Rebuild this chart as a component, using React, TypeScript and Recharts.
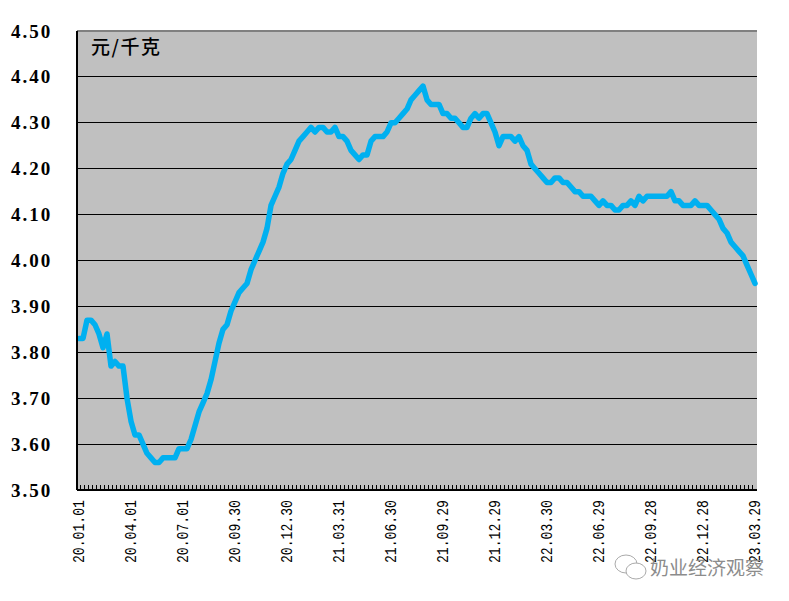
import { CartesianGrid, ComposedChart, Line, ReferenceLine, XAxis, YAxis } from 'recharts';

// weekly price, one row per 13 weeks
const prices = [
  3.83, 3.83, 3.87, 3.87, 3.86, 3.84, 3.81, 3.84, 3.77, 3.78, 3.77, 3.77, 3.7,
  3.65, 3.62, 3.62, 3.6, 3.58, 3.57, 3.56, 3.56, 3.57, 3.57, 3.57, 3.57, 3.59,
  3.59, 3.59, 3.61, 3.64, 3.67, 3.69, 3.71, 3.74, 3.78, 3.82, 3.85, 3.86, 3.89,
  3.91, 3.93, 3.94, 3.95, 3.98, 4.0, 4.02, 4.04, 4.07, 4.12, 4.14, 4.16, 4.19,
  4.21, 4.22, 4.24, 4.26, 4.27, 4.28, 4.29, 4.28, 4.29, 4.29, 4.28, 4.28, 4.29,
  4.27, 4.27, 4.26, 4.24, 4.23, 4.22, 4.23, 4.23, 4.26, 4.27, 4.27, 4.27, 4.28,
  4.3, 4.3, 4.31, 4.32, 4.33, 4.35, 4.36, 4.37, 4.38, 4.35, 4.34, 4.34, 4.34,
  4.32, 4.32, 4.31, 4.31, 4.3, 4.29, 4.29, 4.31, 4.32, 4.31, 4.32, 4.32, 4.3,
  4.28, 4.25, 4.27, 4.27, 4.27, 4.26, 4.27, 4.25, 4.24, 4.21, 4.2, 4.19, 4.18,
  4.17, 4.17, 4.18, 4.18, 4.17, 4.17, 4.16, 4.15, 4.15, 4.14, 4.14, 4.14, 4.13,
  4.12, 4.13, 4.12, 4.12, 4.11, 4.11, 4.12, 4.12, 4.13, 4.12, 4.14, 4.13, 4.14,
  4.14, 4.14, 4.14, 4.14, 4.14, 4.15, 4.13, 4.13, 4.12, 4.12, 4.12, 4.13, 4.12,
  4.12, 4.12, 4.11, 4.1, 4.09, 4.07, 4.06, 4.04, 4.03, 4.02, 4.01, 3.99, 3.97,
  3.95,
];

const dateLabels = [
  '20.01.01', '20.04.01', '20.07.01', '20.09.30', '20.12.30', '21.03.31', '21.06.30',
  '21.09.29', '21.12.29', '22.03.30', '22.06.29', '22.09.28', '22.12.28', '23.03.29',
];
const labelEvery = 13;

const yTicks = [3.5, 3.6, 3.7, 3.8, 3.9, 4.0, 4.1, 4.2, 4.3, 4.4, 4.5];
const gridValues = [3.6, 3.7, 3.8, 3.9, 4.0, 4.1, 4.2, 4.3, 4.4];

const data = prices.map((price, week) => ({ week, price }));

function WeekTick({ x, y, index }: any) {
  const label = index % labelEvery === 0 ? dateLabels[index / labelEvery] : null;
  const axisY = y - 8;
  return (
    <g>
      <line
        x1={x - 2.5}
        x2={x - 2.5}
        y1={axisY - 5}
        y2={axisY}
        stroke="#000"
        strokeWidth={1}
        shapeRendering="crispEdges"
      />
      {label && (
        <text
          x={x}
          y={axisY + 10}
          transform={`rotate(-90 ${x} ${axisY + 10})`}
          textAnchor="end"
          dominantBaseline="central"
          fontFamily="'Liberation Mono', monospace"
          fontSize={17}
          textLength={63}
          lengthAdjust="spacingAndGlyphs"
          fill="#000"
        >
          {label}
        </text>
      )}
    </g>
  );
}

function PriceTick({ y, payload }: any) {
  return (
    <text
      x={11}
      y={y}
      dominantBaseline="central"
      fontFamily="'Liberation Serif', serif"
      fontWeight="bold"
      fontSize={19}
      letterSpacing={2}
      fill="#000"
    >
      {payload.value.toFixed(2)}
    </text>
  );
}

export default function App() {
  return (
    <div style={{ position: 'absolute', left: 0, top: 0, width: 789, height: 601, background: '#fff' }}>
      <ComposedChart
        width={789}
        height={601}
        data={data}
        margin={{ top: 31, right: 32, bottom: 0, left: 0 }}
      >
        <CartesianGrid
          yAxisId="price"
          vertical={false}
          horizontalValues={gridValues}
          stroke="#000"
          strokeWidth={1}
          strokeOpacity={1}
          fill="#c0c0c0"
          fillOpacity={1}
          shapeRendering="crispEdges"
        />
        <XAxis
          dataKey="week"
          scale="band"
          height={111}
          interval={0}
          tick={<WeekTick />}
          tickLine={false}
          axisLine={{ stroke: '#000', strokeWidth: 2 }}
        />
        <YAxis
          yAxisId="price"
          domain={[3.5, 4.5]}
          ticks={yTicks}
          width={77}
          interval={0}
          tick={<PriceTick />}
          tickLine={false}
          axisLine={{ stroke: '#000', strokeWidth: 2 }}
        />
        <YAxis
          yAxisId="edge"
          orientation="right"
          domain={[3.5, 4.5]}
          width={0}
          tick={false}
          tickLine={false}
          axisLine={{ stroke: '#808080', strokeWidth: 3 }}
        />
        <ReferenceLine yAxisId="price" y={4.5} stroke="#808080" strokeWidth={2} />
        <Line
          yAxisId="price"
          dataKey="price"
          type="linear"
          stroke="#00b0f0"
          strokeWidth={5.5}
          strokeLinejoin="round"
          strokeLinecap="round"
          dot={false}
          isAnimationActive={false}
        />
      </ComposedChart>
      <div
        style={{
          position: 'absolute',
          left: 91,
          top: 34,
          fontFamily: "'Noto Sans CJK SC', sans-serif",
          fontWeight: 500,
          fontSize: 19,
          lineHeight: '24px',
          letterSpacing: 1.5,
          color: '#000',
        }}
      >
        元/千克
      </div>
      <div
        style={{
          position: 'absolute',
          left: 650,
          top: 554,
          fontFamily: "'Noto Sans CJK SC', sans-serif",
          fontSize: 19,
          lineHeight: '26px',
          color: '#8c8c8c',
          whiteSpace: 'nowrap',
        }}
      >
        奶业经济观察
      </div>
      <svg style={{ position: 'absolute', left: 612, top: 552 }} width={36} height={30}>
        <ellipse cx={14} cy={12} rx={11} ry={9} fill="#fff" stroke="#aaa" />
        <ellipse cx={24} cy={19} rx={10} ry={8} fill="#fff" stroke="#aaa" />
      </svg>
    </div>
  );
}
